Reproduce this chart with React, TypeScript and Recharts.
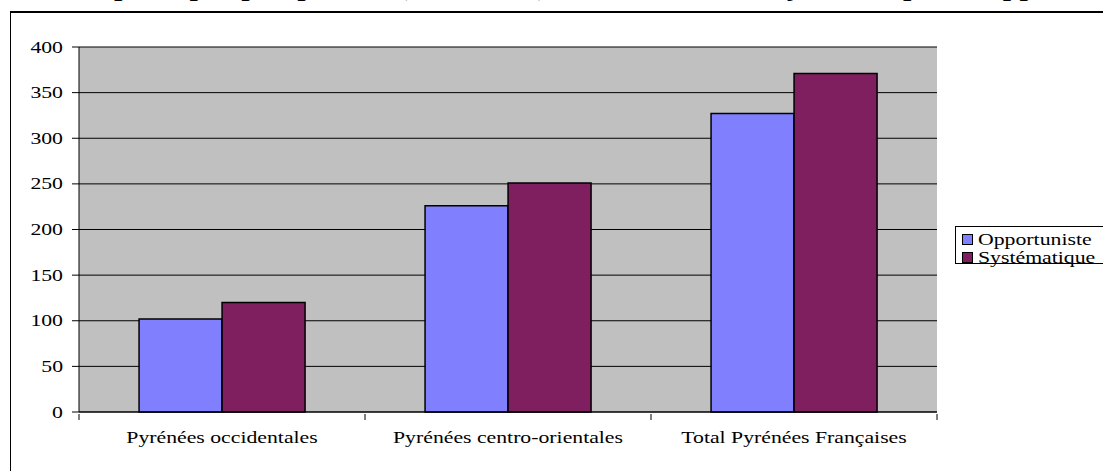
import React from "react";
import { BarChart, Bar, XAxis, YAxis, CartesianGrid } from "recharts";

const regions = [
  "Pyrénées occidentales",
  "Pyrénées centro-orientales",
  "Total Pyrénées Françaises",
];
const opportuniste = [102, 226, 327];
const systematique = [120, 251, 371];
const yTicks = [0, 50, 100, 150, 200, 250, 300, 350, 400];

const BLUE = "#8080FF";
const PURPLE = "#7F1F5F";
const FONT = "'Liberation Serif', 'Times New Roman', serif";
const STRETCH = 1.36; // the original picture is stretched horizontally

const data = regions.map((r, i) => ({
  region: r,
  Opportuniste: opportuniste[i],
  Systématique: systematique[i],
}));

// category ticks: label in the middle, tick marks on the band edges
const CategoryTick = (props: any) => {
  const { x, y, payload, index } = props;
  const half = payload.offset || 143;
  return (
    <g>
      <line x1={x - half} x2={x - half} y1={y - 6} y2={y} stroke="#000" />
      {index === regions.length - 1 && (
        <line x1={x + half} x2={x + half} y1={y - 6} y2={y} stroke="#000" />
      )}
      <text
        transform={`translate(${x},${y + 23}) scale(${STRETCH},1)`}
        textAnchor="middle"
        fontSize={16}
        fontFamily={FONT}
        fill="#000"
      >
        {payload.value}
      </text>
    </g>
  );
};

const ValueTick = (props: any) => {
  const { x, y, payload } = props;
  return (
    <text
      transform={`translate(${x},${y + 5.5}) scale(${STRETCH},1)`}
      textAnchor="end"
      fontSize={16}
      fontFamily={FONT}
      fill="#000"
    >
      {payload.value}
    </text>
  );
};

const LegendBox = () => (
  <div
    style={{
      position: "absolute",
      left: 955,
      top: 226,
      width: 200,
      height: 36,
      border: "1px solid #000",
      background: "#fff",
      fontFamily: FONT,
      fontSize: 16,
    }}
  >
    {[
      { name: "Opportuniste", color: BLUE },
      { name: "Systématique", color: PURPLE },
    ].map((s, i) => (
      <div key={s.name} style={{ position: "absolute", left: 6, top: 4 + i * 18, height: 17, display: "flex", alignItems: "center" }}>
        <span style={{ display: "inline-block", width: 9, height: 9, background: s.color, border: "1px solid #000", marginRight: 5 }} />
        <span style={{ display: "inline-block", transform: `scaleX(${STRETCH})`, transformOrigin: "left center" }}>{s.name}</span>
      </div>
    ))}
  </div>
);

const App: React.FC = () => {
  return (
    <div style={{ position: "absolute", left: 0, top: 0, width: 1103, height: 471, overflow: "hidden", background: "#fff" }}>
      {/* title, cut off by the top of the picture */}
      <div
        style={{
          position: "absolute",
          left: 0,
          top: -24,
          width: 1103,
          textAlign: "center",
          fontFamily: FONT,
          fontWeight: "bold",
          fontSize: 22,
          lineHeight: "26px",
          whiteSpace: "nowrap",
        }}
      >
        <span style={{ display: "inline-block", transform: `scaleX(${STRETCH})` }}>
          Nombre d'espèces par prospection (2006-2007) selon la méthode systématique ou opportuniste
        </span>
      </div>
      <div
        style={{
          position: "absolute",
          left: 10,
          top: 11,
          width: 1200,
          height: 500,
          borderTop: "2px solid #000",
          borderLeft: "1px solid #000",
        }}
      />
      <div style={{ position: "absolute", left: 0, top: 0 }}>
        <BarChart
          width={1103}
          height={471}
          data={data}
          margin={{ top: 47, right: 166, left: 0, bottom: 0 }}
          barCategoryGap="21%"
          barGap={0}
        >
          <CartesianGrid vertical={false} stroke="#000" fill="#C0C0C0" fillOpacity={1} />
          <XAxis
            dataKey="region"
            tick={<CategoryTick />}
            tickLine={false}
            axisLine={{ stroke: "#000" }}
            interval={0}
            height={59}
          />
          <YAxis
            domain={[0, 400]}
            ticks={yTicks}
            width={79}
            tickSize={7}
            tickMargin={9}
            tickLine={{ stroke: "#000" }}
            axisLine={{ stroke: "#000" }}
            tick={<ValueTick />}
          />
          <YAxis
            yAxisId="right"
            orientation="right"
            domain={[0, 400]}
            width={0}
            tick={false}
            tickLine={false}
            axisLine={{ stroke: "#808080", strokeWidth: 2 }}
          />
          <Bar dataKey="Opportuniste" fill={BLUE} stroke="#000" strokeWidth={1.5} isAnimationActive={false} />
          <Bar dataKey="Systématique" fill={PURPLE} stroke="#000" strokeWidth={1.5} isAnimationActive={false} />
        </BarChart>
      </div>
      <LegendBox />
    </div>
  );
};

export default App;
